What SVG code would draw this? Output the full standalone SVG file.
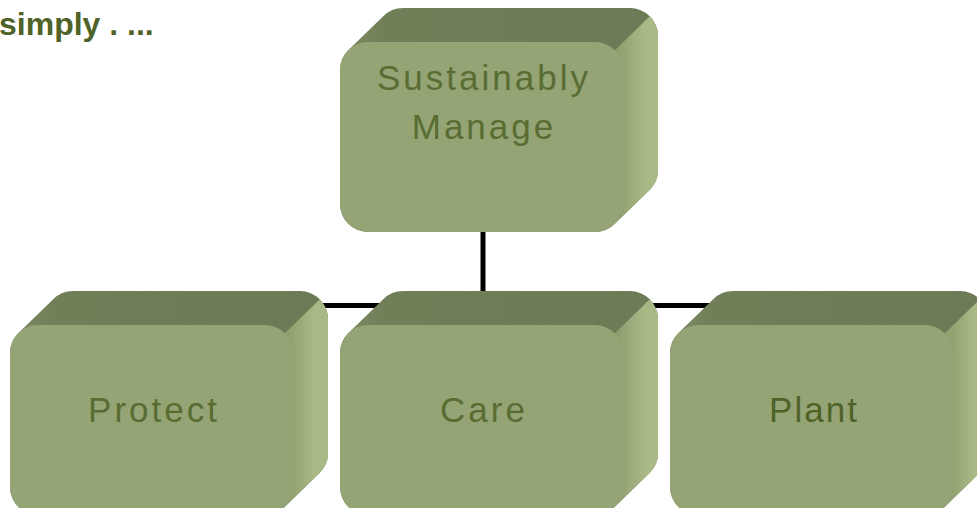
<svg xmlns="http://www.w3.org/2000/svg" width="977" height="508" viewBox="0 0 977 508">
  <style>
    .top { fill: url(#gTop); }
    .side { fill: url(#gSide); }
    .front { fill: #94a474; }
    .lbl { font-family: "Liberation Sans", Arial, sans-serif; font-size: 35px; fill: #596d33; letter-spacing: 3px; text-anchor: middle; }
    .conn { stroke: #000; stroke-width: 5; fill: none; }
  </style>
  <defs>
    <linearGradient id="gTop" x1="0" y1="0" x2="1" y2="0">
      <stop offset="0" stop-color="#7f8d62"/>
      <stop offset="0.15" stop-color="#717f59"/>
      <stop offset="1" stop-color="#6c7a55"/>
    </linearGradient>
    <linearGradient id="gSide" x1="0" y1="0" x2="1" y2="0">
      <stop offset="0" stop-color="#8c9b6b"/>
      <stop offset="0.55" stop-color="#a9ba87"/>
      <stop offset="1" stop-color="#a9ba87"/>
    </linearGradient>
    <clipPath id="hull" clipPathUnits="userSpaceOnUse">
      <rect x="0" y="0" width="283" height="190" rx="28" ry="28"/>
      <rect x="35" y="-34" width="283" height="190" rx="28" ry="28"/>
      <polygon points="8.2,8.2 43.2,-25.8 309.8,147.8 274.8,181.8"/>
    </clipPath>
    <g id="box">
      <g clip-path="url(#hull)">
        <rect class="top" x="-5" y="-40" width="330" height="240"/>
        <polygon class="side" points="274.8,8.2 309.8,-25.8 330,-25.8 330,200 274.8,200"/>
      </g>
      <rect class="front" x="0" y="0" width="283" height="190" rx="28" ry="28"/>
    </g>
  </defs>

  <text x="-1" y="35" font-family="Liberation Sans, Arial, sans-serif" font-size="32" font-weight="bold" fill="#4f6228">simply . ...</text>

  <g id="connectors">
    <path class="conn" d="M483,230 V305.5 M300,305.5 H720"/>
  </g>

  <g id="node-manage" transform="translate(340,42)">
    <use href="#box"/>
    <text class="lbl" x="144" y="48">Sustainably</text>
    <text class="lbl" x="144" y="97">Manage</text>
  </g>
  <g id="node-protect" transform="translate(10,325)">
    <use href="#box"/>
    <text class="lbl" x="144" y="97">Protect</text>
  </g>
  <g id="node-care" transform="translate(340,325)">
    <use href="#box"/>
    <text class="lbl" x="144" y="97">Care</text>
  </g>
  <g id="node-plant" transform="translate(670,325)">
    <use href="#box"/>
    <text class="lbl" x="144" y="97" style="fill:#4f6228;letter-spacing:2px">Plant</text>
  </g>
</svg>
